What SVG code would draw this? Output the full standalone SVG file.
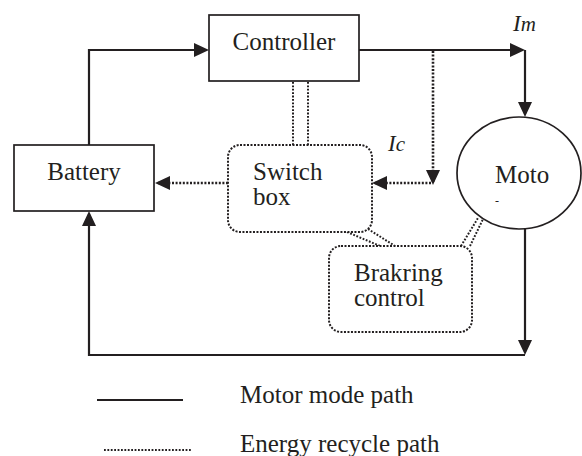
<svg xmlns="http://www.w3.org/2000/svg" width="582" height="456" viewBox="0 0 582 456">
<style>
text{font-family:"Liberation Serif","Times New Roman",serif;font-size:25px;fill:#231f20}
.it{font-style:italic;font-size:23px}
.box{fill:#fff;stroke:#231f20;stroke-width:1.7}
.dbox{fill:#fff;stroke:#231f20;stroke-width:2;stroke-dasharray:2 1.5}
.solid{fill:none;stroke:#231f20;stroke-width:2.2}
.dot{fill:none;stroke:#231f20;stroke-width:2.6;stroke-dasharray:2 1.6}
.dot1{fill:none;stroke:#231f20;stroke-width:2;stroke-dasharray:1.8 1.6}
</style>
<defs>
<marker id="arr" markerUnits="userSpaceOnUse" markerWidth="16" markerHeight="15" refX="12" refY="7" orient="auto">
<path d="M0,0 L15,7 L0,14 Z" fill="#231f20"/>
</marker>
</defs>
<g id="connectors">
<path class="solid" d="M89,145 V50 H206" marker-end="url(#arr)"/>
<path class="solid" d="M359,50 H522" marker-end="url(#arr)"/>
<path class="solid" d="M525,50 V114" marker-end="url(#arr)"/>
<path class="solid" d="M525,229 V352" marker-end="url(#arr)"/>
<path class="solid" d="M525,355 H89 V214" marker-end="url(#arr)"/>
<path class="dot" d="M433,51 V182" marker-end="url(#arr)"/>
<path class="dot" d="M431,183 H375" marker-end="url(#arr)"/>
<path class="dot" d="M228,183 H158" marker-end="url(#arr)"/>
<path class="dot1" d="M293,82 V145 M308,82 V145"/>
<path class="dot1" d="M347,232 L380,246 M368,229 L395,246"/>
<path class="dot1" d="M461,246 L478,218 M470,246 L485,215"/>
</g>
<g id="controller">
<rect class="box" x="209" y="15" width="150" height="66"/>
<text x="284" y="50" text-anchor="middle">Controller</text>
</g>
<g id="battery">
<rect class="box" x="14" y="145" width="140" height="66"/>
<text x="84" y="180" text-anchor="middle">Battery</text>
</g>
<g id="switchbox">
<rect class="dbox" x="228" y="145" width="144" height="87" rx="12"/>
<text x="253" y="180">Switch</text>
<text x="253" y="205">box</text>
</g>
<g id="braking">
<rect class="dbox" x="329" y="246" width="143" height="86" rx="12"/>
<text x="354" y="281">Brakring</text>
<text x="354" y="306">control</text>
</g>
<g id="motor">
<ellipse class="box" cx="519" cy="173" rx="62" ry="56"/>
<text x="495" y="183">Moto</text>
<text x="495" y="205" style="font-size:12px">-</text>
</g>
<g id="labels">
<text class="it" x="513" y="31">I<tspan style="font-size:21px">m</tspan></text>
<text class="it" x="388" y="151">I<tspan style="font-size:21px">c</tspan></text>
</g>
<g id="legend">
<line class="solid" x1="97" y1="400" x2="183" y2="400"/>
<text x="240" y="403">Motor mode path</text>
<line class="dot1" x1="104" y1="450" x2="191" y2="450"/>
<text x="240" y="452">Energy recycle path</text>
</g>
</svg>
